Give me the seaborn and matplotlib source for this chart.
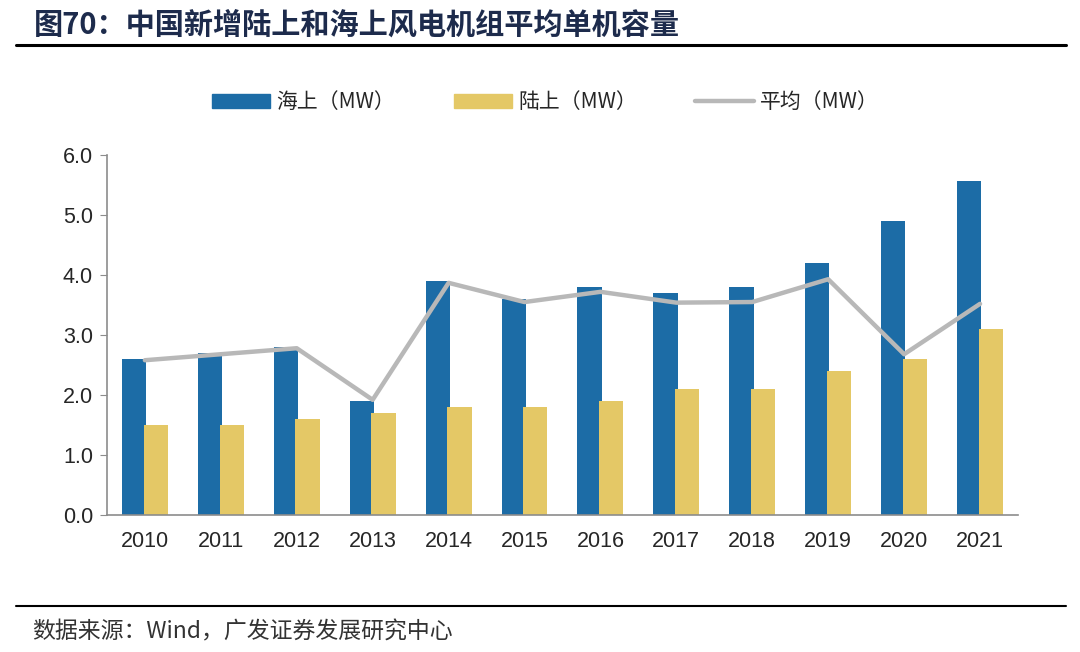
import pandas as pd
import numpy as np
import matplotlib
matplotlib.use("Agg")
import matplotlib.pyplot as plt
import matplotlib.patches as mpatches
import matplotlib.lines as mlines
import seaborn as sns

# data
years = ["2010", "2011", "2012", "2013", "2014", "2015", "2016", "2017", "2018", "2019", "2020", "2021"]
offshore = [2.6, 2.7, 2.8, 1.9, 3.9, 3.6, 3.8, 3.7, 3.8, 4.2, 4.9, 5.56]
onshore = [1.5, 1.5, 1.6, 1.7, 1.8, 1.8, 1.9, 2.1, 2.1, 2.4, 2.6, 3.1]
average = [2.58, 2.68, 2.78, 1.92, 3.87, 3.55, 3.72, 3.54, 3.55, 3.93, 2.68, 3.52]

series_names = ["海上（MW）", "陆上（MW）", "平均（MW）"]
blue = "#1c6ca6"
yellow = "#e4c866"
grey = "#b8b8b8"

sns.set_style("white")
plt.rcParams['font.family'] = ['Noto Sans CJK SC', 'DejaVu Sans']
latin = ['Liberation Sans', 'DejaVu Sans']

df = pd.DataFrame({
    "year": years * 2,
    "value": offshore + onshore,
    "series": [series_names[0]] * len(years) + [series_names[1]] * len(years),
})

fig = plt.figure(figsize=(10.8, 6.52), dpi=100)
ax = fig.add_axes([0.099, 0.2101, 0.8436, 0.5521])

# overlapping bars: dodge + negative gap widens each bar a bit
sns.barplot(data=df, x="year", y="value", hue="series", order=years,
            hue_order=series_names[:2], palette=[blue, yellow],
            width=0.57, gap=-0.12, dodge=True, errorbar=None,
            saturation=1, legend=False, linewidth=0, ax=ax)
sns.lineplot(x=np.arange(len(years)), y=average, color=grey, linewidth=3.2, ax=ax)

yt = np.arange(0, 6.1, 1.0)
ax.set_xlim(-0.5, len(years) - 0.5)
ax.set_ylim(0, 6)
ax.set_yticks(yt)
ax.set_yticklabels([f"{v:.1f}" for v in yt], fontsize=15.5, family=latin)
ax.set_xticks(np.arange(len(years)))
ax.set_xticklabels(years, fontsize=15.5, family=latin)
ax.set_xlabel("")
ax.set_ylabel("")
for s in ["top", "right"]:
    ax.spines[s].set_visible(False)
for s in ["left", "bottom"]:
    ax.spines[s].set_color("#8c8c8c")
    ax.spines[s].set_linewidth(1.2)
ax.tick_params(axis="y", left=True, length=5, color="#8c8c8c", pad=5)
ax.tick_params(axis="x", bottom=False, pad=8)

handles = [
    mpatches.Patch(color=blue, label=series_names[0]),
    mpatches.Patch(color=yellow, label=series_names[1]),
    mlines.Line2D([], [], color=grey, linewidth=3.2, label=series_names[2]),
]
fig.legend(handles=handles, loc="center", bbox_to_anchor=(0.505, 0.843), ncol=3,
           frameon=False, fontsize=15, handlelength=2.8, handleheight=0.7,
           columnspacing=2.8, handletextpad=0.3)

# title and frame lines
fig.text(0.031, 0.962, "图70：中国新增陆上和海上风电机组平均单机容量", fontsize=21,
         fontweight="bold", color="#1d2b4c", va="center", ha="left")
fig.add_artist(mlines.Line2D([0.015, 0.987], [0.931, 0.931], color="black", linewidth=2.2))
fig.add_artist(mlines.Line2D([0.015, 0.987], [0.071, 0.071], color="black", linewidth=1.5))
fig.text(0.030, 0.031, "数据来源：Wind，广发证券发展研究中心", fontsize=16.5,
         color="#333333", va="center", ha="left")

fig.savefig("out.png", dpi=100)
